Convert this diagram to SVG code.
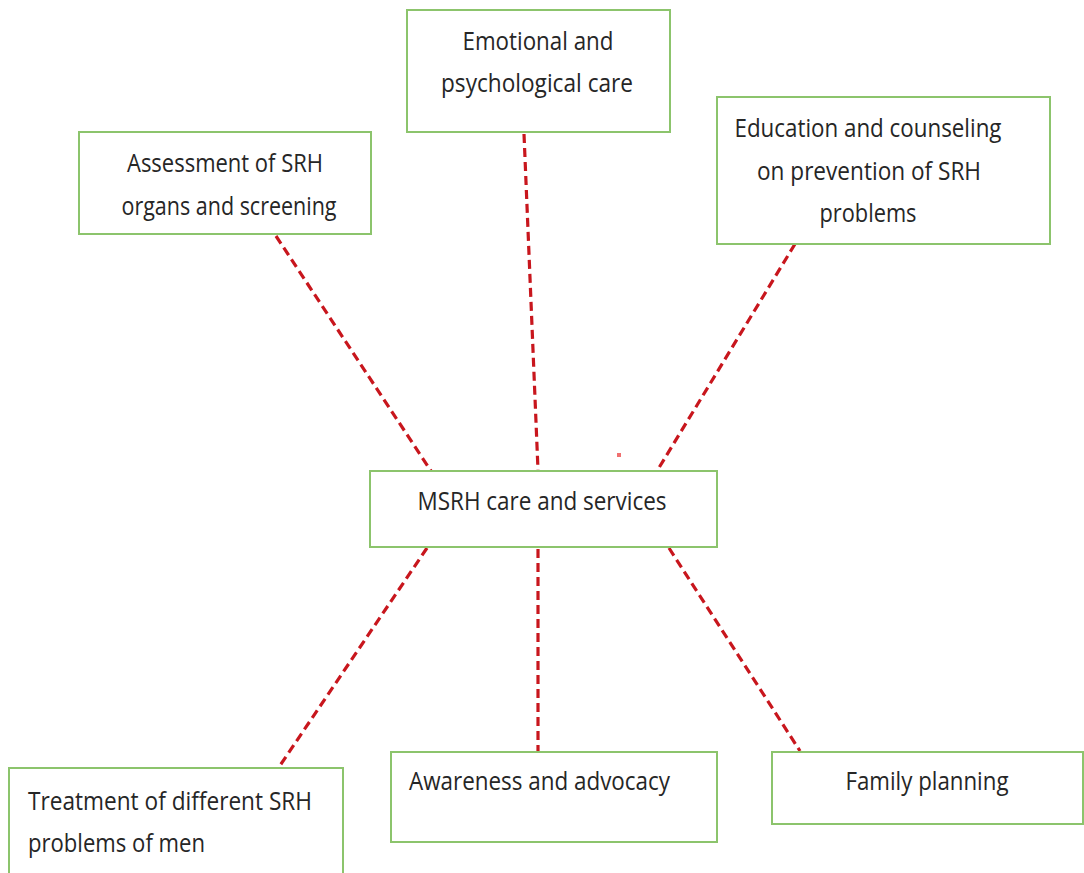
<svg xmlns="http://www.w3.org/2000/svg" width="1084" height="873" viewBox="0 0 1084 873">
<style>
.box{fill:#fff;stroke:#8cc46c;stroke-width:2}
.t{font-family:"Open Sans","Noto Sans",sans-serif;font-size:26px;fill:#262626}
.c{text-anchor:middle}
.ln{stroke:#c8161d;stroke-width:3.2;stroke-dasharray:9 5;fill:none}
</style>
<rect width="1084" height="873" fill="#fff"/>
<g id="connectors">
<line class="ln" x1="276" y1="236" x2="431" y2="471"/>
<line class="ln" x1="524" y1="134" x2="538" y2="470"/>
<line class="ln" x1="795" y1="244" x2="657" y2="471"/>
<line class="ln" x1="427" y1="548" x2="279" y2="767"/>
<line class="ln" x1="538" y1="549" x2="538" y2="751"/>
<line class="ln" x1="669" y1="548" x2="800" y2="751"/>
</g>
<rect x="617" y="453" width="4" height="4" fill="#f07070"/>
<g id="emotional">
<rect class="box" x="407" y="10" width="263" height="122"/>
<text class="t c" x="538" y="50" textLength="151" lengthAdjust="spacingAndGlyphs">Emotional and</text>
<text class="t c" x="537" y="92" textLength="192" lengthAdjust="spacingAndGlyphs">psychological care</text>
</g>
<g id="assessment">
<rect class="box" x="79" y="132" width="292" height="102"/>
<text class="t c" x="225" y="172" textLength="196" lengthAdjust="spacingAndGlyphs">Assessment of SRH</text>
<text class="t c" x="229" y="215" textLength="215" lengthAdjust="spacingAndGlyphs">organs and screening</text>
</g>
<g id="education">
<rect class="box" x="717" y="97" width="333" height="147"/>
<text class="t c" x="868" y="137" textLength="267" lengthAdjust="spacingAndGlyphs">Education and counseling</text>
<text class="t c" x="869" y="180" textLength="224" lengthAdjust="spacingAndGlyphs">on prevention of SRH</text>
<text class="t c" x="868" y="222" textLength="97" lengthAdjust="spacingAndGlyphs">problems</text>
</g>
<g id="msrh">
<rect class="box" x="370" y="471" width="347" height="76"/>
<text class="t c" x="542" y="510" textLength="249" lengthAdjust="spacingAndGlyphs">MSRH care and services</text>
</g>
<g id="treatment">
<rect class="box" x="9" y="768" width="334" height="110"/>
<text class="t" x="28" y="810" textLength="284" lengthAdjust="spacingAndGlyphs">Treatment of different SRH</text>
<text class="t" x="28" y="852" textLength="177" lengthAdjust="spacingAndGlyphs">problems of men</text>
</g>
<g id="awareness">
<rect class="box" x="391" y="752" width="326" height="90"/>
<text class="t" x="409" y="790" textLength="261" lengthAdjust="spacingAndGlyphs">Awareness and advocacy</text>
</g>
<g id="family">
<rect class="box" x="772" y="752" width="311" height="72"/>
<text class="t c" x="927" y="790" textLength="163" lengthAdjust="spacingAndGlyphs">Family planning</text>
</g>
</svg>
